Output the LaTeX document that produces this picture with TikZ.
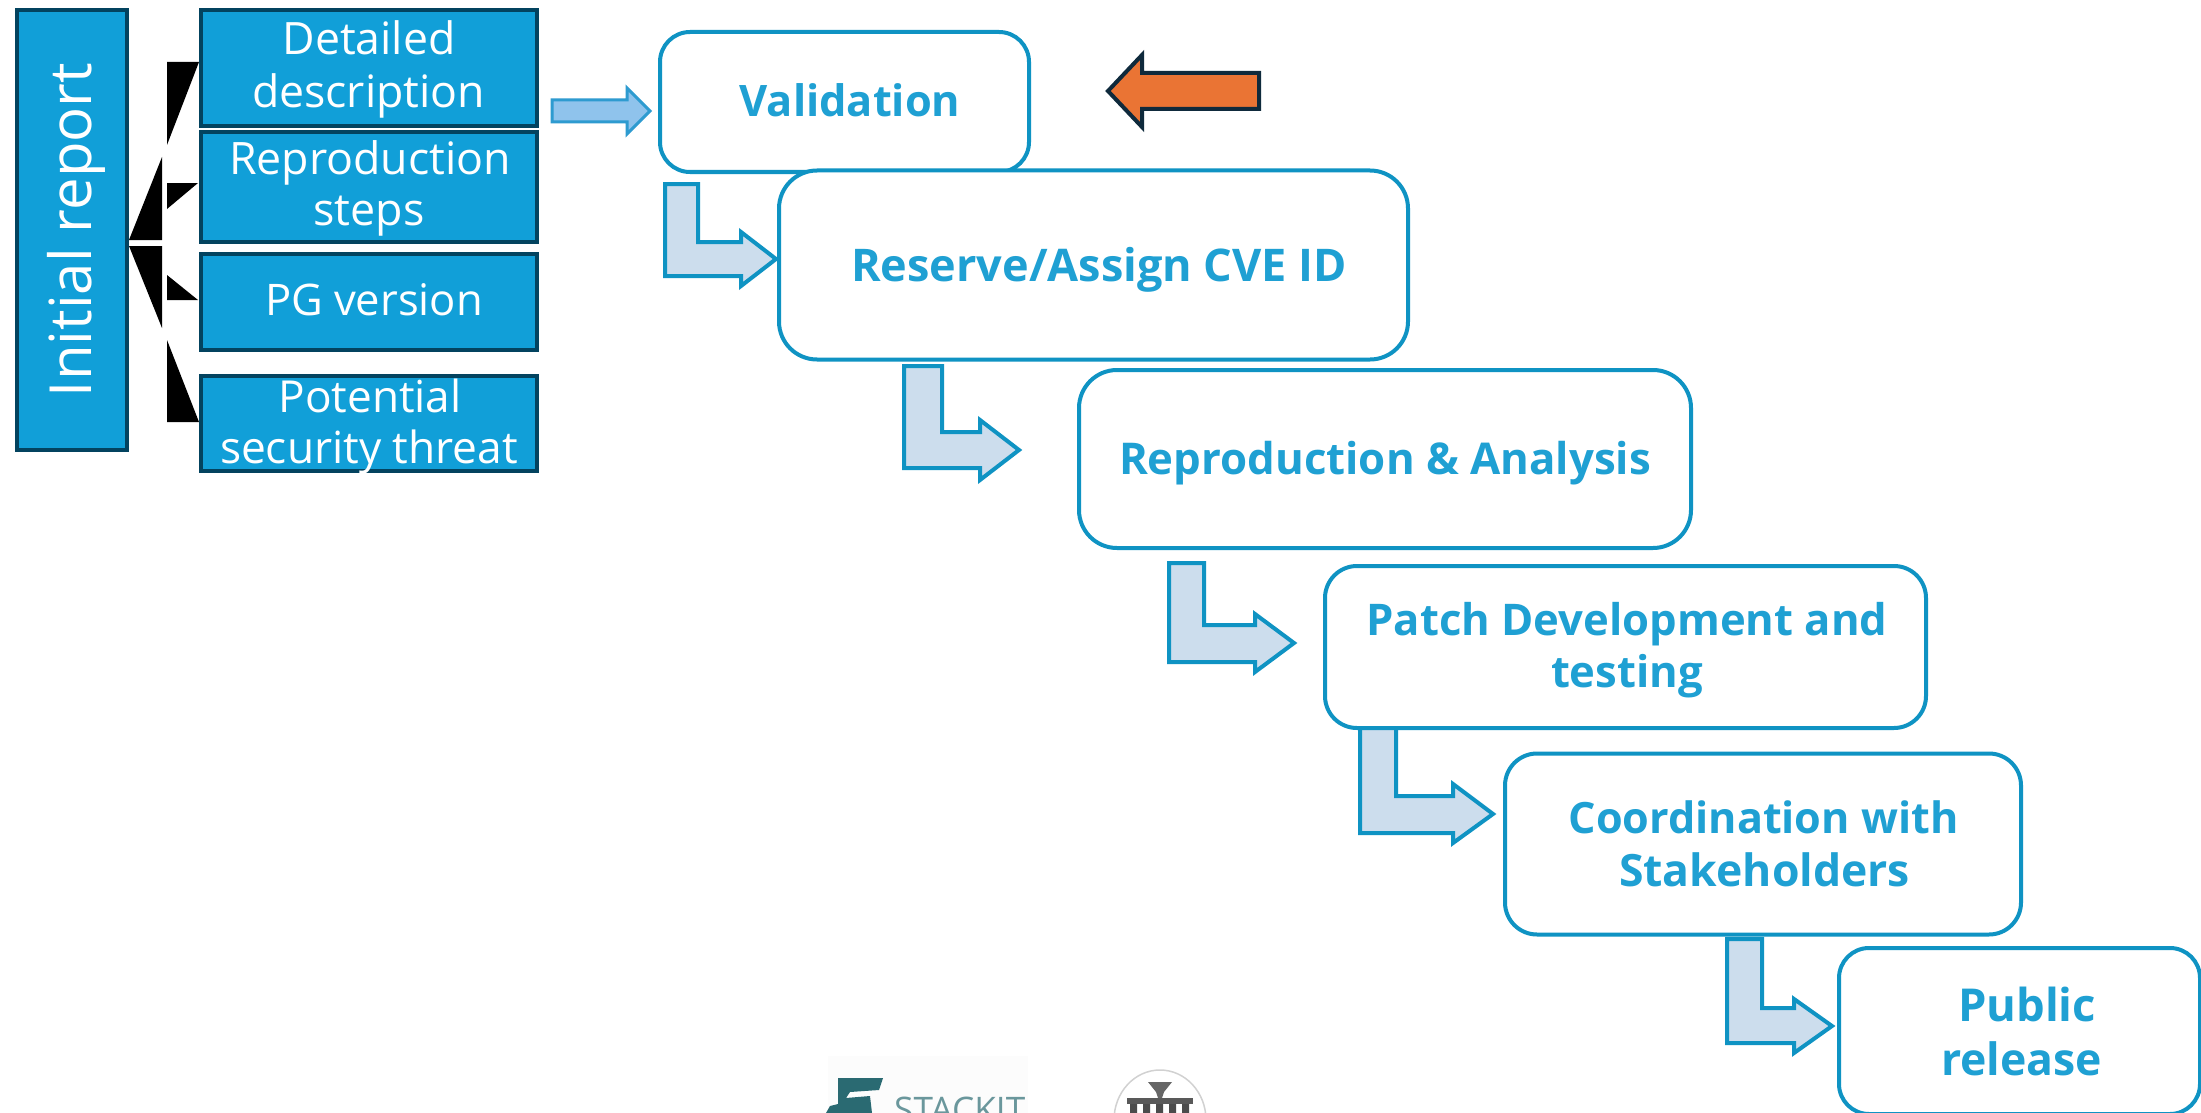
\documentclass[tikz,border=0pt]{standalone}
\usepackage{graphicx}
\usepackage{fontspec}
\setmainfont{Open Sans}
\definecolor{leftfill}{HTML}{119FD8}
\definecolor{leftline}{HTML}{03435F}
\definecolor{stepline}{HTML}{0F93C3}
\definecolor{steptext}{HTML}{1FA0D3}
\definecolor{bentfill}{HTML}{CCDDED}
\definecolor{inarrow}{HTML}{8FC3EC}
\definecolor{inline}{HTML}{2E9BD0}
\definecolor{orangefill}{HTML}{EA7434}
\definecolor{orangeline}{HTML}{0F2A3C}
\definecolor{stackteal}{HTML}{2A6A72}
\newcommand\lbl[4]{\makebox[0pt][l]{\kern#1pt\raisebox{#2pt}[0pt][0pt]{\makebox[0pt][c]{\resizebox{#3pt}{!}{#4}}}}}
\newcommand\bentarrow[9]{\draw[bentarrow] (#1,#2) -- (#3,#2) -- (#3,#4) -- (#5,#4) -- (#5,#6) -- (#7,#8) -- (#5,#9)}
\tikzset{
  lbox/.style={draw=leftline,fill=leftfill,line width=4.5pt,rectangle,inner sep=0pt,outer sep=0pt,text=white,font=\fontsize{44}{50}\selectfont},
  stepbox/.style={draw=stepline,fill=white,line width=4pt,rectangle,rounded corners=#1,inner sep=0pt,outer sep=0pt,text=steptext,font=\fontsize{44}{50}\selectfont\bfseries},
  bentarrow/.style={draw=stepline,fill=bentfill,line width=4pt,line join=miter},
  triangle/.style={fill=black,draw=none},
}
\begin{document}
\begin{tikzpicture}[x=1pt,y=-1pt]
\useasboundingbox (0,0) rectangle (2201,1113);
\clip (0,0) rectangle (2201,1113);
\fill[white] (0,0) rectangle (2201,1113);
% black wedges
\fill[triangle] (167,62) -- (199,62) -- (167,145) -- cycle;
\fill[triangle] (129,240) -- (162,157) -- (162,240) -- cycle;
\fill[triangle] (167,183) -- (198,183) -- (167,209) -- cycle;
\fill[triangle] (167,275) -- (198,300) -- (167,300) -- cycle;
\fill[triangle] (129,246) -- (162,246) -- (162,328) -- cycle;
\fill[triangle] (167,340) -- (199,422) -- (167,422) -- cycle;
% left boxes
\node[lbox,rotate=90,minimum width=440pt,minimum height=110pt] (initial) at (72,230) {\lbl{0}{-19}{334}{Initial report}};
\node[lbox,minimum width=336pt,minimum height=116pt] (detail) at (369,68) {\lbl{0}{13}{173}{Detailed}\lbl{-0.5}{-40}{233}{description}};
\node[lbox,minimum width=336pt,minimum height=110pt] (repro) at (369,187) {\lbl{1}{13}{282}{Reproduction}\lbl{0}{-39}{111}{steps}};
\node[lbox,minimum width=336pt,minimum height=96pt] (pgv) at (369,302) {\lbl{5}{-13}{218}{PG version}};
\node[lbox,minimum width=336pt,minimum height=95pt] (threat) at (369,423.5) {\lbl{1}{11.5}{183}{Potential}\lbl{0}{-39.5}{298}{security threat}};
% input arrow
\draw[draw=inline,fill=inarrow,line width=3pt] (552,100) -- (627,100) -- (627,88) -- (650,111) -- (627,134) -- (627,122) -- (552,122) -- cycle;
% orange arrow
\draw[draw=orangeline,fill=orangefill,line width=4pt] (1259,73) -- (1142,73) -- (1142,55) -- (1108,91) -- (1142,127) -- (1142,109) -- (1259,109) -- cycle;
% bent arrows
\bentarrow{665}{184}{698}{242}{741}{232}{776}{259}{286} -- (741,276) -- (665,276) -- cycle;
\bentarrow{904}{366}{942}{432}{980}{420}{1019}{450}{480} -- (980,468) -- (904,468) -- cycle;
\bentarrow{1169}{563}{1204}{625}{1255}{614}{1294}{643}{672} -- (1255,662) -- (1169,662) -- cycle;
\bentarrow{1360}{726}{1396}{796}{1453}{784}{1493}{814}{843} -- (1453,833) -- (1360,833) -- cycle;
\bentarrow{1727}{939}{1762}{1008}{1794}{999}{1832}{1026}{1053} -- (1794,1043) -- (1727,1043) -- cycle;
% steps
\node[stepbox=30pt,minimum width=369pt,minimum height=140pt] (validation) at (844.5,102) {\lbl{5.5}{-15}{221}{Validation}};
\node[stepbox=38pt,minimum width=629pt,minimum height=189pt] (reserve) at (1093.5,265) {\lbl{5.5}{-16}{496}{Reserve/Assign CVE ID}};
\node[stepbox=38pt,minimum width=612pt,minimum height=178pt] (analysis) at (1385,459) {\lbl{0}{-15}{532}{Reproduction \& Analysis}};
\node[stepbox=32pt,minimum width=601pt,minimum height=162pt] (patch) at (1625.5,647) {\lbl{1.5}{12}{521}{Patch Development and}\lbl{1.5}{-40}{152}{testing}};
\node[stepbox=32pt,minimum width=516pt,minimum height=181pt] (coord) at (1763,844) {\lbl{0.5}{11}{390}{Coordination with}\lbl{1.5}{-42}{291}{Stakeholders}};
\node[stepbox=30pt,minimum width=361pt,minimum height=166pt] (public) at (2019.5,1031) {\lbl{7.5}{9.5}{138}{Public}\lbl{2}{-44.5}{161}{release}};
% logos
\fill[black!1] (828,1056) rectangle (1028,1113);
\fill[stackteal] (838,1078) -- (883,1078) -- (879,1090) -- (850,1092) -- (846,1098) -- (870,1096) -- (872,1113) -- (826,1113) -- (830,1106) -- (838,1104) -- cycle;
\node[anchor=base west,inner sep=0pt,text=stackteal!70,font=\fontsize{34}{40}\selectfont] (stackit) at (894,1122) {\resizebox{131pt}{!}{STACKIT}};
\draw[black!18,line width=1.5pt,fill=white] (1160,1120) ellipse (46 and 50);
\fill[black!65] (1127,1098) rectangle (1193,1104);
\fill[black!70] (1130,1104) rectangle (1137,1113) (1143,1104) rectangle (1150,1113) (1156,1104) rectangle (1163,1113) (1169,1104) rectangle (1176,1113) (1182,1104) rectangle (1189,1113);
\fill[black!60] (1148,1082) -- (1172,1082) -- (1164,1092) -- (1162,1098) -- (1158,1098) -- (1156,1092) -- cycle;
\end{tikzpicture}
\end{document}
